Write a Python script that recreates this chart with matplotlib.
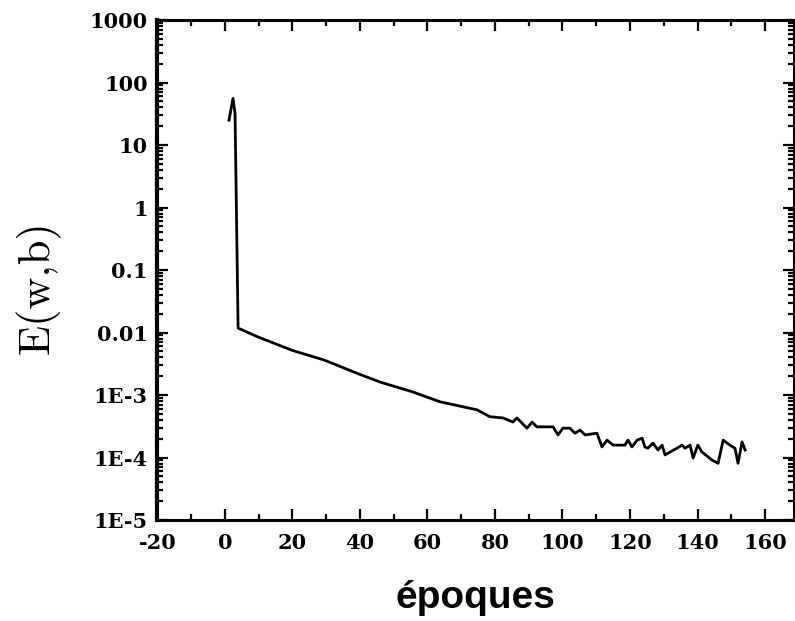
import numpy as np
import matplotlib.pyplot as plt
from matplotlib.ticker import FixedLocator, FixedFormatter, LogLocator, MultipleLocator, NullFormatter

plt.rcParams['axes.unicode_minus'] = False

# training error per epoch
epochs = [1.2, 2.4, 3.0, 3.9, 9.8, 19.9, 29.6, 39.4, 45.9, 55.7, 63.7, 74.7,
          78.5, 82.4, 85.3, 86.5, 89.5, 91.0, 92.4, 97.2, 98.7, 100.1, 102.2,
          103.7, 105.2, 106.7, 110.2, 111.7, 113.2, 115.0, 118.5, 119.4, 120.6,
          122.1, 123.6, 124.4, 125.3, 126.8, 128.3, 129.5, 130.4, 131.9, 133.9,
          135.4, 136.3, 137.8, 138.7, 140.1, 141.3, 144.3, 146.1, 147.6, 149.6,
          151.1, 152.0, 153.2, 154.1]
error = [25, 56, 32, 0.0118, 0.0085, 0.0052, 0.0036, 0.0022, 0.00162, 0.00112,
         7.8e-4, 5.8e-4, 4.5e-4, 4.3e-4, 3.7e-4, 4.3e-4, 2.95e-4, 3.7e-4, 3.1e-4,
         3.1e-4, 2.3e-4, 2.95e-4, 2.95e-4, 2.45e-4, 2.75e-4, 2.3e-4, 2.45e-4,
         1.48e-4, 1.9e-4, 1.58e-4, 1.58e-4, 1.9e-4, 1.48e-4, 1.9e-4, 2.04e-4,
         1.48e-4, 1.41e-4, 1.7e-4, 1.32e-4, 1.58e-4, 1.1e-4, 1.23e-4, 1.41e-4,
         1.58e-4, 1.41e-4, 1.58e-4, 9.8e-5, 1.58e-4, 1.23e-4, 9.1e-5, 8.1e-5,
         1.9e-4, 1.58e-4, 1.41e-4, 8.1e-5, 1.78e-4, 1.32e-4]

y_ticks = [1e-5, 1e-4, 1e-3, 1e-2, 1e-1, 1, 10, 100, 1000]
y_labels = ['1E-5', '1E-4', '1E-3', '0.01', '0.1', '1', '10', '100', '1000']

fig = plt.figure(figsize=(7.95, 6.21), dpi=100)
ax = fig.add_axes([0.198, 0.1626, 0.8008, 0.805])

ax.plot(epochs, error, color='black', lw=2.0, solid_joinstyle='round')

ax.set_yscale('log')
ax.set_ylim(1e-5, 1000)
ax.set_xlim(-20, 168.6)

ax.yaxis.set_major_locator(FixedLocator(y_ticks))
ax.yaxis.set_major_formatter(FixedFormatter(y_labels))
ax.yaxis.set_minor_locator(LogLocator(base=10, subs=np.arange(2, 10), numticks=20))
ax.yaxis.set_minor_formatter(NullFormatter())
ax.xaxis.set_major_locator(MultipleLocator(20))
ax.xaxis.set_minor_locator(MultipleLocator(10))

for s in ax.spines.values():
    s.set_linewidth(2.2)
ax.spines['left'].set_linewidth(3)

ax.tick_params(which='both', direction='in', top=True, right=True, width=1.6)
ax.tick_params(which='major', length=8)
ax.tick_params(axis='x', which='major', pad=9)
ax.tick_params(axis='y', which='major', pad=7)
ax.tick_params(which='minor', length=4.5)

for lab in ax.get_xticklabels() + ax.get_yticklabels():
    lab.set_fontfamily('DejaVu Serif')
    lab.set_fontweight('bold')
    lab.set_fontsize(15)

ax.set_ylabel('E(w,b)', fontfamily='cmr10', fontsize=32)
ax.yaxis.set_label_coords(-0.152, 0.466)
ax.set_xlabel('époques', fontfamily='Liberation Sans', fontweight='bold',
              fontsize=28, labelpad=20)

fig.savefig('out.png', dpi=100)
